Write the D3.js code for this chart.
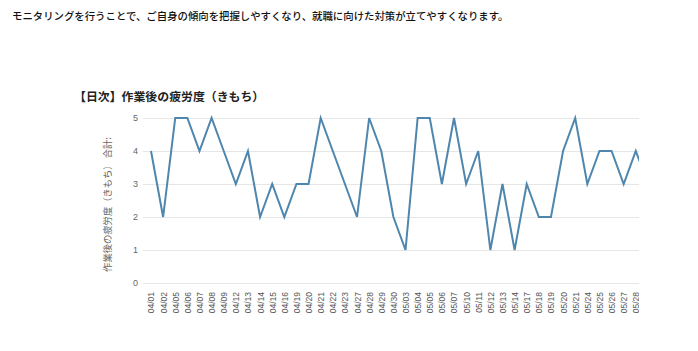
<!DOCTYPE html>
<html>
<head>
<meta charset="utf-8">
<script src="https://cdn.jsdelivr.net/npm/d3@7"></script>
<style>
  body { margin: 0; background: #fff; }
  svg { display: block; }
</style>
</head>
<body>
<script>
// data (last date runs past the clipped right edge)
const dates = ["04/01", "04/02", "04/05", "04/06", "04/07", "04/08", "04/09", "04/12", "04/13", "04/14",
  "04/15", "04/16", "04/19", "04/20", "04/21", "04/22", "04/23", "04/27", "04/28", "04/29",
  "04/30", "05/03", "05/04", "05/05", "05/06", "05/07", "05/10", "05/11", "05/12", "05/13",
  "05/14", "05/17", "05/18", "05/19", "05/20", "05/21", "05/24", "05/25", "05/26", "05/27",
  "05/28", "05/31"];
const fatigue = [4, 2, 5, 5, 4, 5, 4, 3, 4, 2,
  3, 2, 3, 3, 5, 4, 3, 2, 5, 4,
  2, 1, 5, 5, 3, 5, 3, 4, 1, 3,
  1, 3, 2, 2, 4, 5, 3, 4, 4, 3,
  4, 3];
const yTicks = [0, 1, 2, 3, 4, 5];

const headText = "モニタリングを行うことで、ご自身の傾向を把握しやすくなり、就職に向けた対策が立てやすくなります。";
const chartTitle = "【日次】作業後の疲労度（きもち）";
const yTitle = "作業後の疲労度（きもち） 合計:";

const width = 698, height = 351;
const plot = { left: 143, right: 639, top: 118, bottom: 283 };
const step = 12.12;
const jp = "'Noto Sans CJK JP', 'Noto Sans', sans-serif";

const svg = d3.select("body").append("svg")
  .attr("width", width)
  .attr("height", height);

svg.append("defs").append("clipPath")
  .attr("id", "clip")
  .append("rect")
  .attr("x", 0).attr("y", 0)
  .attr("width", plot.right).attr("height", height);

// header line
svg.append("text")
  .attr("x", 12)
  .attr("y", 20)
  .attr("font-family", jp)
  .attr("font-size", 10.4)
  .attr("font-weight", 500)
  .attr("fill", "#111")
  .text(headText);

svg.append("text")
  .attr("x", 74)
  .attr("y", 101)
  .attr("font-family", jp)
  .attr("font-size", 11.9)
  .attr("font-weight", "bold")
  .attr("fill", "#222")
  .text(chartTitle);

const x = d3.scalePoint()
  .domain(dates)
  .range([151, 151 + step * (dates.length - 1)]);

const y = d3.scaleLinear()
  .domain([0, 5])
  .range([plot.bottom, plot.top]);

const g = svg.append("g").attr("clip-path", "url(#clip)");

// gridlines
g.selectAll("line.grid")
  .data(yTicks)
  .enter()
  .append("line")
  .attr("class", "grid")
  .attr("x1", plot.left)
  .attr("x2", plot.right)
  .attr("y1", d => Math.round(y(d)) + 0.5)
  .attr("y2", d => Math.round(y(d)) + 0.5)
  .attr("stroke", "#e6e6e6")
  .attr("stroke-width", 1);

// y tick labels
const yAxis = d3.axisLeft(y).tickValues(yTicks).tickFormat(d3.format("d")).tickSize(0).tickPadding(0);
const ya = svg.append("g")
  .attr("transform", `translate(${plot.left - 5},0)`)
  .call(yAxis);
ya.select(".domain").remove();
ya.selectAll("text")
  .attr("font-family", "'Liberation Sans', Arial, sans-serif")
  .attr("font-size", 9)
  .attr("fill", "#666");

// y title
svg.append("text")
  .attr("transform", `translate(108,${(plot.top + plot.bottom) / 2 + 4}) rotate(-90)`)
  .attr("text-anchor", "middle")
  .attr("dy", "0.35em")
  .attr("font-family", jp)
  .attr("font-size", 9.3)
  .attr("fill", "#666")
  .text(yTitle);

// x labels
const xAxis = d3.axisBottom(x).tickSize(0).tickPadding(0);
const xa = g.append("g")
  .attr("transform", `translate(0,${plot.bottom + 9})`)
  .call(xAxis);
xa.select(".domain").remove();
xa.selectAll("text")
  .attr("font-family", "'Liberation Sans', Arial, sans-serif")
  .attr("font-size", 8.5)
  .attr("fill", "#555")
  .attr("text-anchor", "end")
  .attr("dy", "0.35em")
  .attr("y", 0)
  .attr("transform", "rotate(-90)");

// the line
const line = d3.line()
  .x((d, i) => x(dates[i]))
  .y(d => y(d));

g.append("path")
  .datum(fatigue)
  .attr("d", line)
  .attr("fill", "none")
  .attr("stroke", "#4f86ae")
  .attr("stroke-width", 2)
  .attr("stroke-linejoin", "miter");
</script>
</body>
</html>
